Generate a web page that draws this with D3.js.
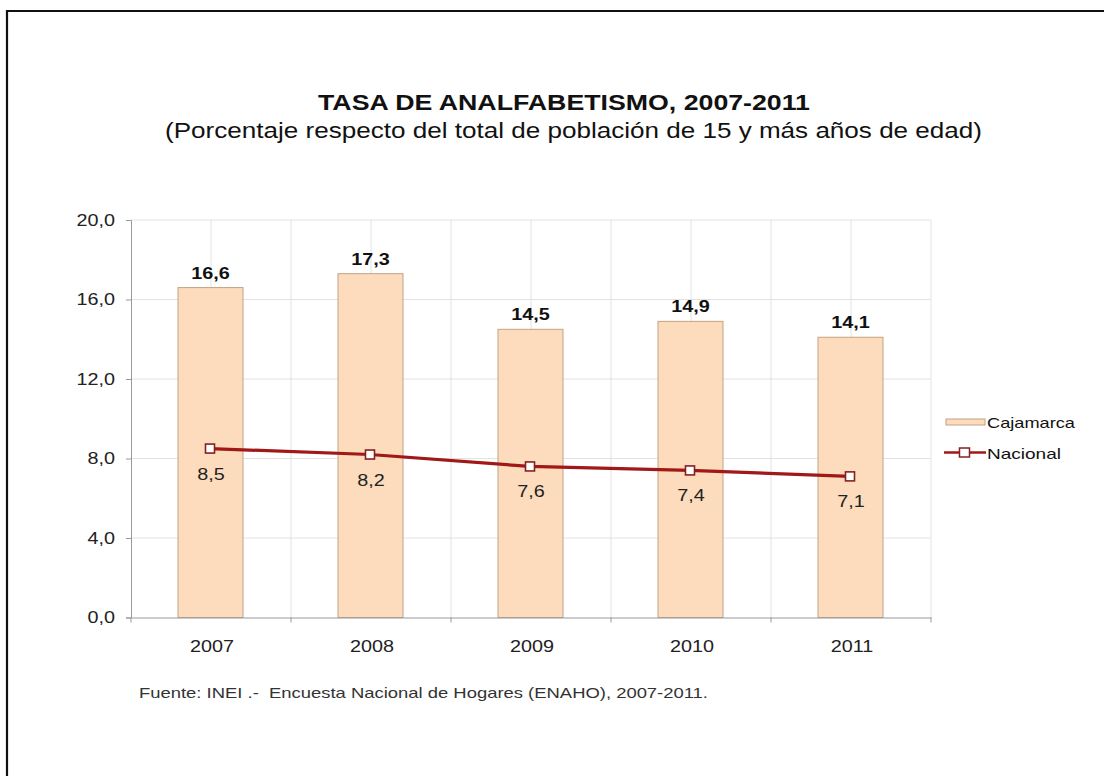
<!DOCTYPE html>
<html><head><meta charset="utf-8">
<script src="https://cdn.jsdelivr.net/npm/d3@7"></script>
<style>body{margin:0;background:#fff}svg{display:block;font-family:Arial,"Liberation Sans",sans-serif}</style>
</head><body>
<svg id="c" width="1104" height="776"></svg>
<script>
const years = ["2007","2008","2009","2010","2011"];
const cajamarca = [16.6, 17.3, 14.5, 14.9, 14.1];
const nacional = [8.5, 8.2, 7.6, 7.4, 7.1];
const yTicks = [0, 4, 8, 12, 16, 20];
const seriesNames = ["Cajamarca", "Nacional"];

const svg = d3.select("#c");
const fmt = v => v.toFixed(1).replace(".", ",");
const SX = 1.2;

// frame (left + top)
svg.append("path").attr("d","M7,776 V11 H1104").attr("fill","none").attr("stroke","#111").attr("stroke-width",2.2);

svg.append("text").attr("x",318).attr("y",110)
  .attr("font-weight","bold").attr("font-size",21.5).attr("fill","#111")
  .attr("textLength",492).attr("lengthAdjust","spacingAndGlyphs").text("TASA DE ANALFABETISMO, 2007-2011");
svg.append("text").attr("x",165).attr("y",138)
  .attr("font-size",22).attr("fill","#111")
  .attr("textLength",817).attr("lengthAdjust","spacingAndGlyphs").text("(Porcentaje respecto del total de población de 15 y más años de edad)");

const L=131, R=931, T=220, B=617.5;
const x = d3.scaleBand().domain(years).range([L,R]).paddingInner(0).paddingOuter(0);
const y = d3.scaleLinear().domain([0,20]).range([B,T]);
const cxs = yr => x(yr)+x.bandwidth()/2;

// gridlines
const g = svg.append("g");
g.selectAll("line.h").data(yTicks.slice(1)).join("line")
  .attr("x1",L).attr("x2",R).attr("y1",d=>y(d)).attr("y2",d=>y(d)).attr("stroke","#e2e2e2").attr("stroke-width",1);
const vx = [];
years.forEach(yr=>{vx.push(cxs(yr)); vx.push(x(yr)+x.bandwidth());});
g.selectAll("line.v").data(vx).join("line")
  .attr("x1",d=>d).attr("x2",d=>d).attr("y1",T).attr("y2",B).attr("stroke","#e2e2e2").attr("stroke-width",1);

// bars
const bw = 65;
svg.selectAll("rect.bar").data(cajamarca).join("rect")
  .attr("x",(d,i)=>cxs(years[i])-bw/2-0.5).attr("width",bw)
  .attr("y",d=>y(d)).attr("height",d=>B-y(d))
  .attr("fill","#fcdcbc").attr("stroke","#c2a283").attr("stroke-width",1);
svg.selectAll("text.bl").data(cajamarca).join("text")
  .attr("transform",(d,i)=>`translate(${cxs(years[i])-0.5},${y(d)-9}) scale(${SX},1)`)
  .attr("text-anchor","middle").attr("font-weight","bold").attr("font-size",16.5).attr("fill","#111").text(fmt);

// axes
const ya = svg.append("g").attr("transform",`translate(${L},0)`)
  .call(d3.axisLeft(y).tickValues(yTicks).tickFormat("").tickSize(5));
ya.select(".domain").attr("stroke","#999");
ya.selectAll(".tick line").attr("stroke","#999");
svg.selectAll("text.yl").data(yTicks).join("text")
  .attr("transform",d=>`translate(115,${y(d)}) scale(${SX},1)`).attr("dy","0.36em")
  .attr("text-anchor","end").attr("font-size",16.5).attr("fill","#222").text(fmt);

const xa = svg.append("g").attr("transform",`translate(0,${B})`)
  .call(d3.axisBottom(x).tickSize(0).tickFormat(""));
xa.select(".domain").attr("stroke","#999");
svg.append("g").selectAll("line").data(d3.range(years.length+1)).join("line")
  .attr("x1",i=>L+i*x.bandwidth()).attr("x2",i=>L+i*x.bandwidth()).attr("y1",B).attr("y2",B+5).attr("stroke","#999");
svg.selectAll("text.xl").data(years).join("text")
  .attr("transform",d=>`translate(${cxs(d)+1},652) scale(${SX},1)`)
  .attr("text-anchor","middle").attr("font-size",16.5).attr("fill","#222").text(d=>d);

// line
const cx = i => cxs(years[i])-1;
const line = d3.line().x((d,i)=>cx(i)).y(d=>y(d));
svg.append("path").datum(nacional).attr("d",line).attr("fill","none").attr("stroke","#a01818").attr("stroke-width",3.2);
svg.selectAll("rect.m").data(nacional).join("rect")
  .attr("x",(d,i)=>cx(i)-4.5).attr("y",d=>y(d)-4.5).attr("width",9).attr("height",9)
  .attr("fill","#fff").attr("stroke","#862020").attr("stroke-width",1.6);
svg.selectAll("text.ll").data(nacional).join("text")
  .attr("transform",(d,i)=>`translate(${cx(i)+1},${y(d)+31}) scale(${SX},1)`)
  .attr("text-anchor","middle").attr("font-size",16.5).attr("fill","#222").text(fmt);

// legend
const lg = svg.append("g");
lg.append("rect").attr("x",946).attr("y",419).attr("width",39).attr("height",6).attr("fill","#fcdcbc").attr("stroke","#c2a283");
lg.append("text").attr("x",987).attr("y",428).attr("font-size",15).attr("fill","#111")
  .attr("textLength",88).attr("lengthAdjust","spacingAndGlyphs").text(seriesNames[0]);
lg.append("line").attr("x1",944).attr("x2",986).attr("y1",452.5).attr("y2",452.5).attr("stroke","#a01818").attr("stroke-width",2.5);
lg.append("rect").attr("x",959.5).attr("y",448).attr("width",10).attr("height",9).attr("fill","#fff").attr("stroke","#862020").attr("stroke-width",1.5);
lg.append("text").attr("x",987).attr("y",458.5).attr("font-size",15).attr("fill","#111")
  .attr("textLength",74).attr("lengthAdjust","spacingAndGlyphs").text(seriesNames[1]);

svg.append("text").attr("x",139).attr("y",698).attr("font-size",15).attr("fill","#333")
  .attr("xml:space","preserve").attr("textLength",569).attr("lengthAdjust","spacingAndGlyphs")
  .text("Fuente: INEI .-  Encuesta Nacional de Hogares (ENAHO), 2007-2011.");
</script>
</body></html>
